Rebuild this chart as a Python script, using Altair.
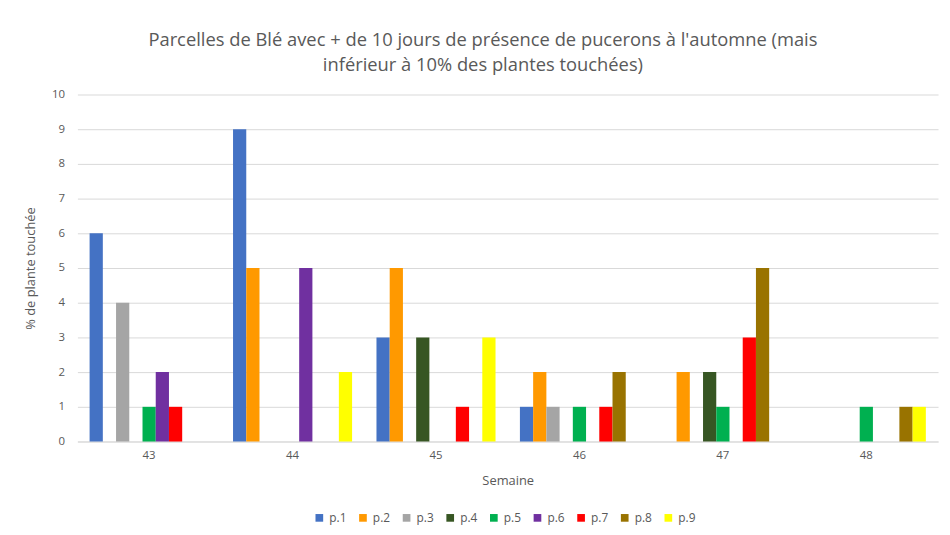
import altair as alt
import pandas as pd

weeks = ["43", "44", "45", "46", "47", "48"]
series = ["p.1", "p.2", "p.3", "p.4", "p.5", "p.6", "p.7", "p.8", "p.9"]
colors = ["#4472C4", "#FF9900", "#A5A5A5", "#375623", "#00B050",
          "#7030A0", "#FF0000", "#997300", "#FFFF00"]
y_ticks = [0, 1, 2, 3, 4, 5, 6, 7, 8, 9, 10]

p1 = [6, 9, 3, 1, 0, 0]
p2 = [0, 5, 5, 2, 2, 0]
p3 = [4, 0, 0, 1, 0, 0]
p4 = [0, 0, 3, 0, 2, 0]
p5 = [1, 0, 0, 1, 1, 1]
p6 = [2, 5, 0, 0, 0, 0]
p7 = [1, 0, 1, 1, 3, 0]
p8 = [0, 0, 0, 2, 5, 1]
p9 = [0, 2, 3, 0, 0, 1]

values = [p1, p2, p3, p4, p5, p6, p7, p8, p9]
rows = []
for s, vals in zip(series, values):
    for w, v in zip(weeks, vals):
        rows.append({"Semaine": w, "serie": s, "val": v})
df = pd.DataFrame(rows)

FONT = "Open Sans, sans-serif"
GRAY = "#595959"

chart = alt.Chart(df).mark_bar().encode(
    x=alt.X("Semaine:N", sort=weeks,
            scale=alt.Scale(paddingInner=0.17, paddingOuter=0.085),
            axis=alt.Axis(title="Semaine", labelAngle=0, ticks=False,
                          domainColor="#D9D9D9", labelPadding=8,
                          titlePadding=14)),
    xOffset=alt.XOffset("serie:N", sort=series,
                        scale=alt.Scale(paddingInner=0, paddingOuter=0)),
    y=alt.Y("val:Q", scale=alt.Scale(domain=[0, 10]),
            axis=alt.Axis(title="% de plante touchée",
                          values=y_ticks, ticks=False, labelOverlap=False,
                          domain=False, gridColor="#D9D9D9",
                          labelPadding=13, titlePadding=14)),
    color=alt.Color("serie:N", sort=series,
                    scale=alt.Scale(domain=series, range=colors),
                    legend=alt.Legend(title=None, orient="none",
                                      direction="horizontal",
                                      legendX=238, legendY=421,
                                      symbolType="square", symbolSize=60,
                                      symbolStrokeWidth=0,
                                      labelFontSize=12, labelColor=GRAY,
                                      labelFont=FONT, columnPadding=10,
                                      columns=9)),
).properties(
    width=868,
    height=350,
    title=alt.TitleParams(
        ["Parcelles de Blé avec + de 10 jours de présence de pucerons à l'automne (mais",
         "inférieur à 10% des plantes touchées)"],
        fontSize=18.5, font=FONT, color=GRAY, fontWeight="normal",
        anchor="middle", dx=-25, lineHeight=25, offset=14),
    autosize=alt.AutoSizeParams(type="none"),
    padding={"left": 70, "top": 85, "right": 4, "bottom": 88},
).configure_axis(
    labelFont=FONT, titleFont=FONT, labelColor=GRAY, titleColor=GRAY,
    labelFontSize=11.5, titleFontSize=13, titleFontWeight="normal",
).configure_view(stroke=None)

chart.save("out.html", embed_options={"renderer": "svg", "actions": False})
